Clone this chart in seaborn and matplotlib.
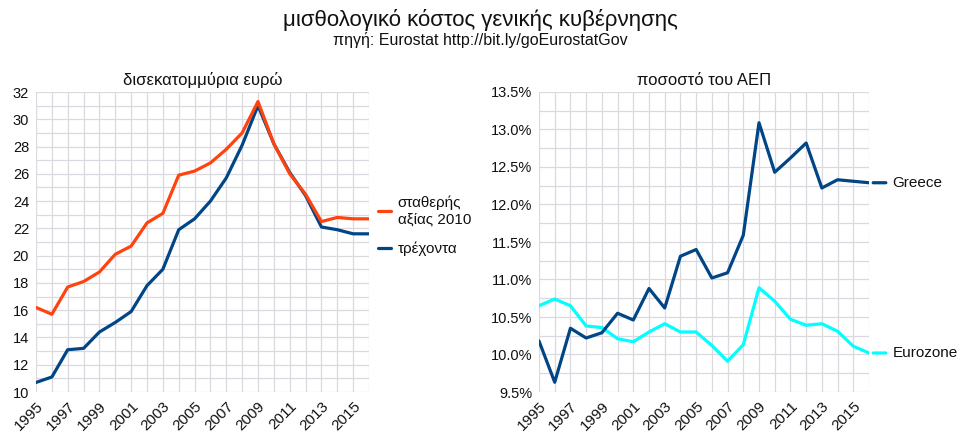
import numpy as np
import pandas as pd
import matplotlib
matplotlib.use("Agg")
import matplotlib.pyplot as plt
from matplotlib.ticker import MultipleLocator, FixedLocator, StrMethodFormatter
from matplotlib.lines import Line2D
import seaborn as sns

years = list(range(1995, 2017))
constant_2010 = [16.2, 15.7, 17.7, 18.1, 18.8, 20.1, 20.7, 22.4, 23.1, 25.9, 26.2, 26.8,
                 27.8, 29.0, 31.3, 28.2, 26.0, 24.5, 22.5, 22.8, 22.7, 22.7]
current = [10.7, 11.1, 13.1, 13.2, 14.4, 15.1, 15.9, 17.8, 19.0, 21.9, 22.7, 24.0,
           25.7, 28.1, 31.0, 28.2, 26.1, 24.4, 22.1, 21.9, 21.6, 21.6]
greece_pct = [10.18, 9.63, 10.35, 10.22, 10.29, 10.55, 10.46, 10.88, 10.62, 11.31, 11.40, 11.02,
              11.09, 11.59, 13.09, 12.43, 12.62, 12.82, 12.22, 12.33, 12.31, 12.29]
eurozone_pct = [10.65, 10.74, 10.65, 10.38, 10.36, 10.21, 10.17, 10.30, 10.41, 10.30, 10.30, 10.12,
                9.91, 10.13, 10.89, 10.71, 10.47, 10.39, 10.41, 10.31, 10.11, 10.02]
x_tick_years = years[::2]

left_labels = ["σταθερής\nαξίας 2010", "τρέχοντα"]
right_labels = ["Greece", "Eurozone"]

ORANGE = "#ff420e"
BLUE = "#004586"
CYAN = "#00ffff"
GRID = "#dcd8e0"
TEXT = "#111111"

sns.set_style("white")
plt.rcParams["font.family"] = ["Liberation Sans", "DejaVu Sans"]
plt.rcParams["text.color"] = TEXT
plt.rcParams["xtick.labelcolor"] = TEXT
plt.rcParams["ytick.labelcolor"] = TEXT
plt.rcParams["axes.titlecolor"] = TEXT

df_left = pd.DataFrame({
    "year": years * 2,
    "value": current + constant_2010,
    "series": [left_labels[1]] * len(years) + [left_labels[0]] * len(years),
})
df_right = pd.DataFrame({
    "year": years * 2,
    "value": greece_pct + eurozone_pct,
    "series": [right_labels[0]] * len(years) + [right_labels[1]] * len(years),
})

fig = plt.figure(figsize=(9.6, 4.4), dpi=100)
axL = fig.add_axes([36 / 960, 1 - 392 / 440, (369 - 36) / 960, (392 - 92) / 440])
axR = fig.add_axes([539 / 960, 1 - 392 / 440, (869 - 539) / 960, (392 - 92) / 440])

sns.lineplot(data=df_left, x="year", y="value", hue="series",
             palette={left_labels[0]: ORANGE, left_labels[1]: BLUE},
             hue_order=[left_labels[1], left_labels[0]],
             linewidth=2.3, ax=axL, legend=False)
sns.lineplot(data=df_right, x="year", y="value", hue="series",
             palette={right_labels[0]: BLUE, right_labels[1]: CYAN},
             hue_order=[right_labels[1], right_labels[0]],
             linewidth=2.3, ax=axR, legend=False)


def style_axes(ax):
    ax.set_xlim(1995, 2016)
    ax.xaxis.set_major_locator(FixedLocator(x_tick_years))
    ax.xaxis.set_minor_locator(MultipleLocator(1))
    ax.grid(True, which="both", color=GRID, linewidth=0.9)
    ax.set_axisbelow(True)
    for s in ax.spines.values():
        s.set_visible(False)
    ax.tick_params(axis="both", which="both", color=GRID, direction="out")
    ax.tick_params(axis="both", which="major", length=4, labelsize=10.5, pad=1)
    ax.tick_params(axis="x", which="major", labelsize=11)
    ax.tick_params(axis="both", which="minor", length=0)
    plt.setp(ax.get_xticklabels(), rotation=45, ha="right", rotation_mode="anchor")
    ax.set_xlabel("")
    ax.set_ylabel("")


axL.set_ylim(10, 32)
axL.yaxis.set_major_locator(MultipleLocator(2))
axL.yaxis.set_minor_locator(MultipleLocator(1))
style_axes(axL)
axL.set_title("δισεκατομμύρια ευρώ", fontsize=12, pad=5)

axR.set_ylim(9.5, 13.5)
axR.yaxis.set_major_locator(MultipleLocator(0.5))
axR.yaxis.set_minor_locator(MultipleLocator(0.25))
axR.yaxis.set_major_formatter(StrMethodFormatter("{x:.1f}%"))
style_axes(axR)
axR.set_title("ποσοστό του ΑΕΠ", fontsize=12, pad=5)

handles = [Line2D([], [], color=ORANGE, lw=2.3), Line2D([], [], color=BLUE, lw=2.3)]
axL.legend(handles, left_labels, loc="upper left", bbox_to_anchor=(370 / 960, 1 - 188 / 440),
           bbox_transform=fig.transFigure, frameon=False, fontsize=11,
           handlelength=0.9, handletextpad=0.4, labelspacing=1.0, borderpad=0)

for vals, lab, col in [(greece_pct, right_labels[0], BLUE), (eurozone_pct, right_labels[1], CYAN)]:
    axR.annotate(lab, xy=(years[-1], vals[-1]), xytext=(17, 0), textcoords="offset points",
                 va="center", ha="left", fontsize=11, annotation_clip=False,
                 arrowprops=dict(arrowstyle="-", color=col, lw=2.3, shrinkA=2.5, shrinkB=3))

fig.text(0.5, 1 - 20 / 440, "μισθολογικό κόστος γενικής κυβέρνησης", ha="center", va="center", fontsize=16)
fig.text(0.5, 1 - 40 / 440, "πηγή: Eurostat http://bit.ly/goEurostatGov", ha="center", va="center", fontsize=11.5)

fig.savefig("out.png", dpi=100)
